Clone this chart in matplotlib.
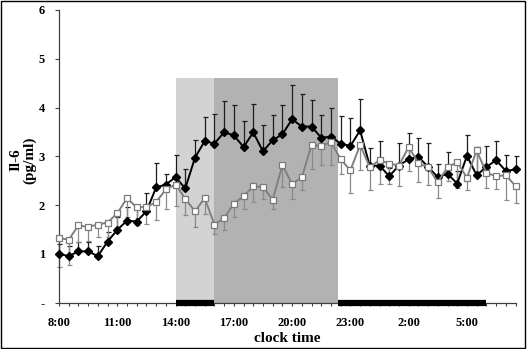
import matplotlib
matplotlib.use("Agg")
import matplotlib.pyplot as plt
import numpy as np
from matplotlib.patches import Rectangle

# half-hour samples, 8:00 -> 7:30 next morning
n_points = 48
tick_labels = ["8:00", "11:00", "14:00", "17:00", "20:00", "23:00", "2:00", "5:00"]

# black diamonds: mean and top of the (upward) error bar
black_mean = [1.00, 0.95, 1.05, 1.05, 0.95, 1.25, 1.49, 1.68, 1.66, 1.87,
              2.36, 2.42, 2.57, 2.34, 2.97, 3.31, 3.26, 3.49, 3.43, 3.19,
              3.49, 3.10, 3.33, 3.45, 3.76, 3.61, 3.61, 3.38, 3.40, 3.26,
              3.21, 3.53, 2.80, 2.81, 2.59, 2.81, 2.94, 2.99, 2.78, 2.57,
              2.64, 2.44, 3.01, 2.61, 2.78, 2.92, 2.70, 2.73]
black_top = [1.20, 1.15, 1.25, 1.25, 1.15, 1.45, 1.75, 1.95, 1.92, 2.25,
             2.87, 2.63, 3.02, 2.73, 3.33, 3.81, 3.86, 4.14, 4.05, 3.73,
             4.08, 3.65, 3.85, 4.06, 4.46, 4.27, 4.16, 3.84, 3.98, 3.82,
             3.79, 4.18, 3.17, 3.31, 2.75, 3.28, 3.47, 3.38, 3.28, 2.85,
             3.09, 2.70, 3.43, 3.19, 3.21, 3.31, 3.03, 3.01]

# white squares: mean and bottom of the (downward) error bar
white_mean = [1.32, 1.29, 1.58, 1.55, 1.60, 1.64, 1.83, 2.14, 1.95, 1.96,
              2.06, 2.32, 2.42, 2.13, 1.87, 2.14, 1.60, 1.73, 2.03, 2.18,
              2.38, 2.37, 2.11, 2.82, 2.43, 2.57, 3.23, 3.21, 3.29, 2.94,
              2.71, 3.23, 2.78, 2.92, 2.85, 2.81, 3.19, 2.86, 2.77, 2.47,
              2.77, 2.88, 2.56, 3.12, 2.66, 2.59, 2.61, 2.39]
white_bottom = [0.73, 0.76, 1.24, 1.26, 1.34, 1.34, 1.55, 1.75, 1.58, 1.62,
                1.70, 1.92, 1.97, 1.79, 1.55, 1.82, 1.40, 1.48, 1.75, 1.92,
                2.06, 2.13, 1.92, 2.37, 2.13, 2.30, 2.73, 2.83, 2.83, 2.64,
                2.25, 2.71, 2.30, 2.44, 2.44, 2.40, 2.69, 2.47, 2.42, 2.15,
                2.49, 2.34, 2.30, 2.64, 2.35, 2.32, 2.10, 2.04]

# shaded periods and black bars on the time axis (in sample index units)
light_span = (12, 16)
dark_span = (16, 28.75)
shade_top = 4.6
black_bars = [(12, 16), (28.75, 44)]

x = np.arange(n_points)
black_mean = np.array(black_mean)
white_mean = np.array(white_mean)
up_err = np.array(black_top) - black_mean
down_err = white_mean - np.array(white_bottom)
zeros = np.zeros(n_points)

serif = ["Liberation Serif", "DejaVu Serif"]

fig = plt.figure(figsize=(5.27, 3.49), dpi=100)
ax = fig.add_axes([59 / 527, 1 - 302.5 / 349, (515.5 - 59) / 527, (302.5 - 10) / 349])

ax.fill_between(light_span, 0, shade_top, color="#d3d3d3", lw=0, zorder=0)
ax.fill_between(dark_span, 0, shade_top, color="#b2b2b2", lw=0, zorder=0)

ax.errorbar(x, black_mean, yerr=[zeros, up_err], fmt="none", ecolor="#1e1e1e",
            elinewidth=0.9, capsize=1.8, capthick=0.9, zorder=2, clip_on=False)
ax.errorbar(x, white_mean, yerr=[down_err, zeros], fmt="none", ecolor="#8a8a8a",
            elinewidth=0.9, capsize=1.8, capthick=0.9, zorder=2.5, clip_on=False)
ax.plot(x, black_mean, "-D", color="black", lw=1.4, ms=4.2, zorder=3, clip_on=False)
ax.plot(x, white_mean, "-s", color="#808080", lw=1.4, ms=5, mfc="white",
        mec="#7a7a7a", mew=0.9, zorder=4, clip_on=False)

for x0, x1 in black_bars:
    ax.plot([x0, x1], [0, 0], color="black", lw=4.5, solid_capstyle="butt",
            zorder=6, clip_on=False)

ax.set_xlim(0, n_points - 1)
ax.set_ylim(0, 6)
for side in ("top", "right"):
    ax.spines[side].set_visible(False)
for side in ("left", "bottom"):
    ax.spines[side].set_color("#404040")
    ax.spines[side].set_linewidth(0.9)

ax.set_xticks(x)
ax.set_xticklabels([tick_labels[i // 6] if i % 6 == 0 else "" for i in x])
ax.set_yticks(range(7))
ax.set_yticklabels(["-", "1", "2", "3", "4", "5", "6"])
ax.tick_params(axis="x", direction="out", length=2.5, width=0.8, color="#404040", pad=8)
ax.tick_params(axis="y", direction="out", length=3, width=0.8, color="#404040", pad=7)
for lab in ax.get_xticklabels() + ax.get_yticklabels():
    lab.set_fontfamily(serif)
    lab.set_fontweight("bold")
    lab.set_fontsize(9)

ax.set_xlabel("clock time", fontfamily=serif, fontweight="bold", fontsize=11, labelpad=2)
fig.text(23 / 527, 1 - 160 / 349, "Il-6\n(pg/ml)", rotation=90, ha="center", va="center",
         multialignment="center", linespacing=1.05, fontfamily=serif,
         fontweight="bold", fontsize=11)

fig.add_artist(Rectangle((0.001, 0.003), 0.995, 0.995, transform=fig.transFigure,
                         fill=False, edgecolor="black", lw=1))

fig.savefig("out.png", dpi=100)
